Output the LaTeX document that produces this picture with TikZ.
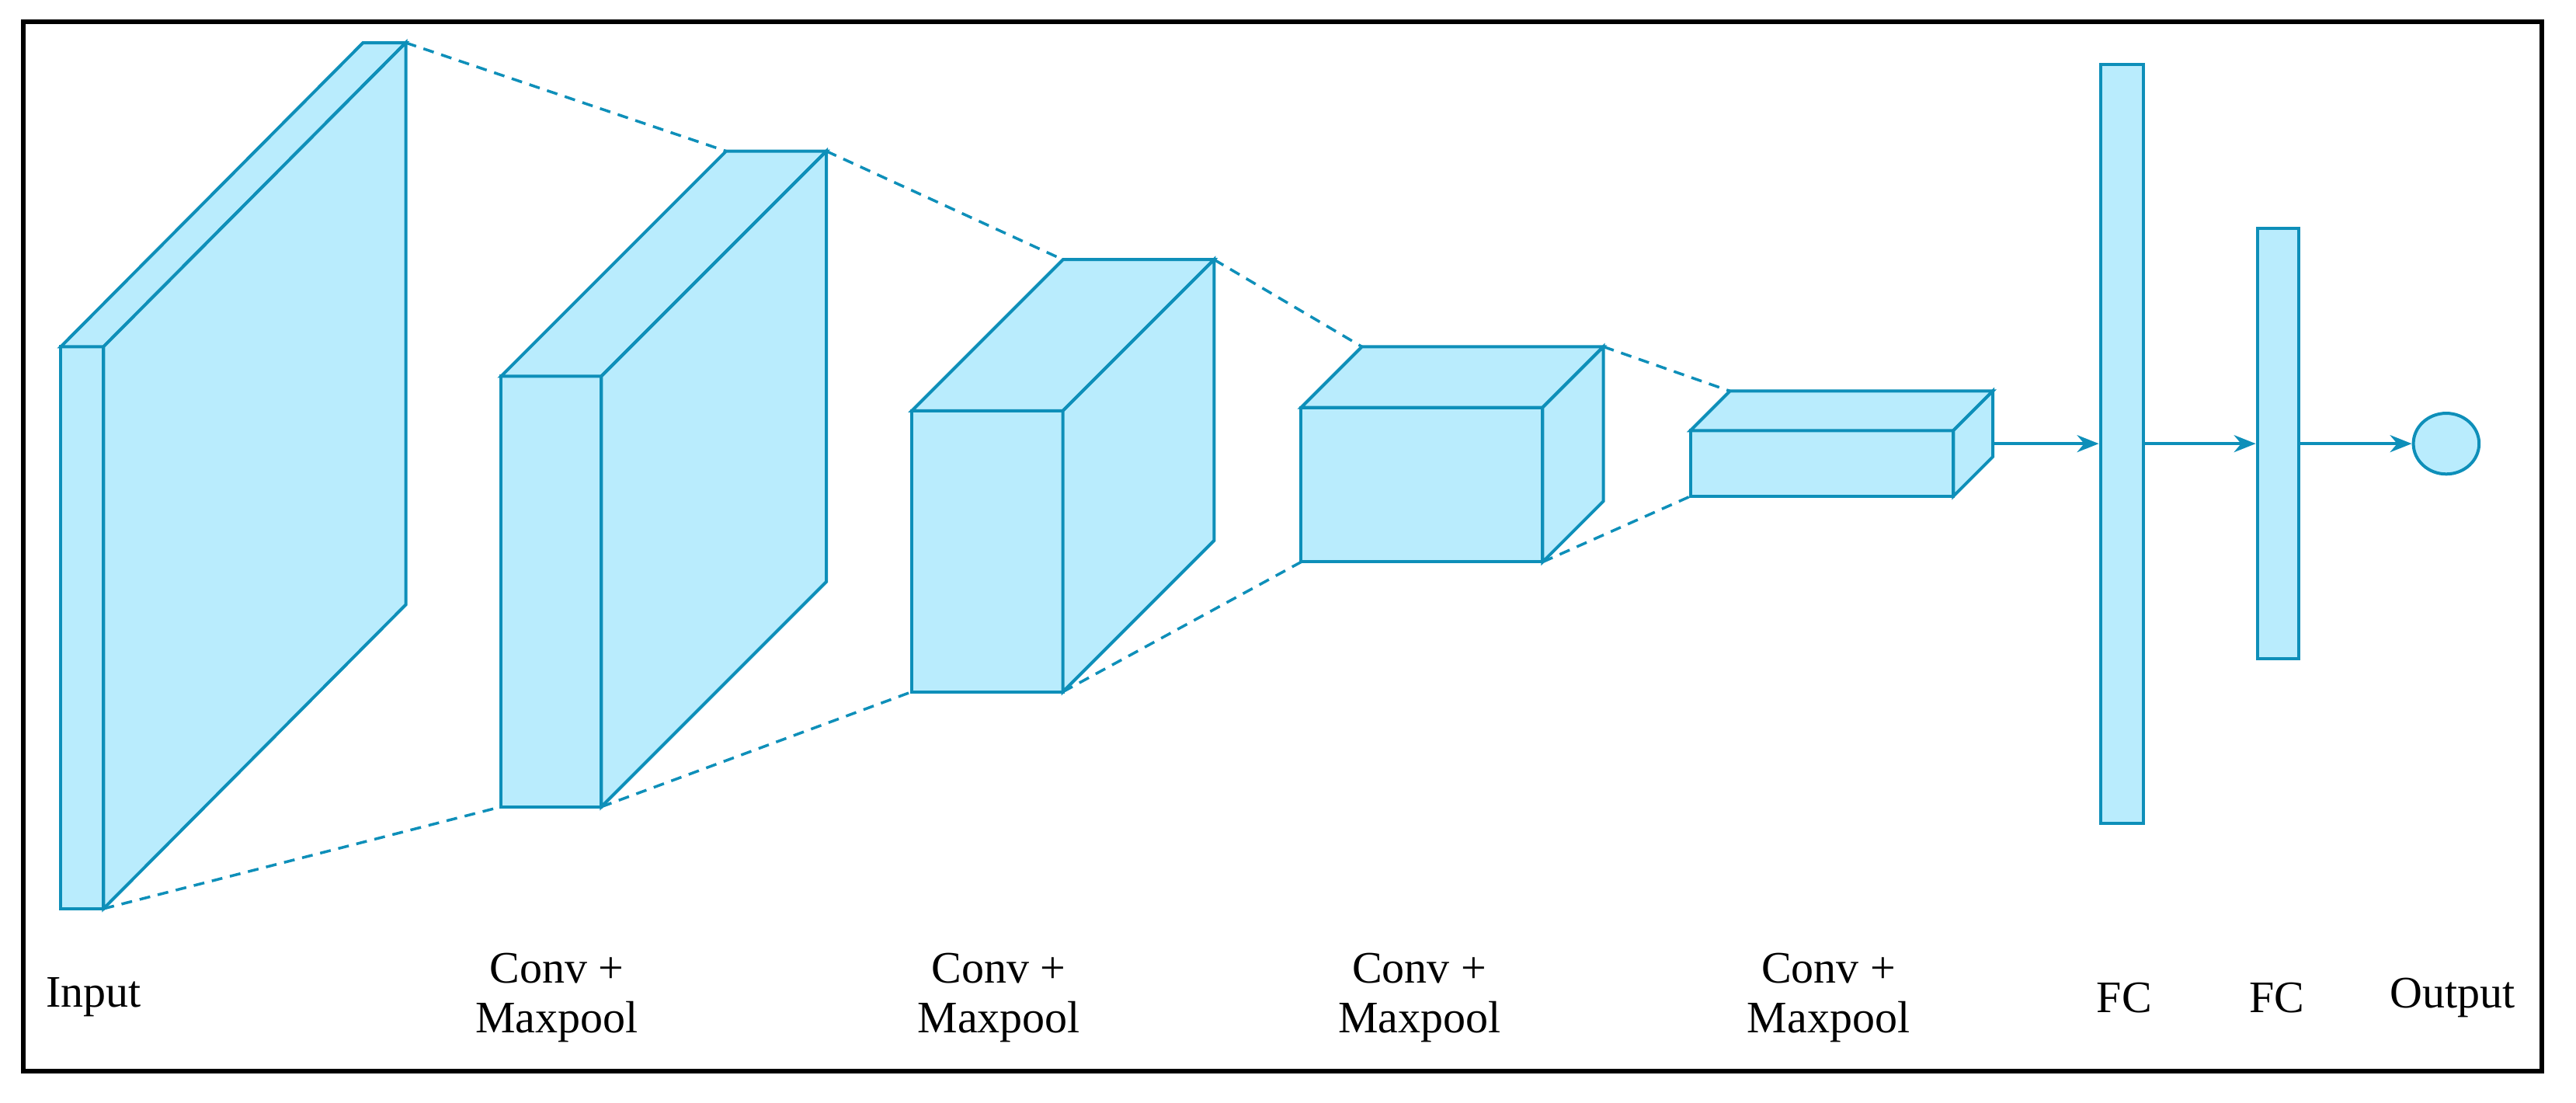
\documentclass[tikz,border=0pt]{standalone}
\usepackage{fontspec}
\setmainfont{Liberation Serif}
\usetikzlibrary{arrows.meta,calc,shapes.geometric}
\definecolor{edge}{RGB}{14,143,185}
\definecolor{face}{RGB}{185,236,253}
\newcommand\mybox[7]{% name, x1, y1, x2, y2, dx, dy
  \coordinate (#1fbl) at (#2,#5); \coordinate (#1fbr) at (#4,#5);
  \coordinate (#1ftl) at (#2,#3); \coordinate (#1ftr) at (#4,#3);
  \coordinate (#1btl) at ($(#1ftl)+(#6,#7)$); \coordinate (#1btr) at ($(#1ftr)+(#6,#7)$);
  \coordinate (#1bbr) at ($(#1fbr)+(#6,#7)$);
  \draw[lay] (#1ftl) rectangle (#1fbr);
  \draw[lay] (#1ftl) -- (#1btl) -- (#1btr) -- (#1ftr) -- cycle;
  \draw[lay] (#1ftr) -- (#1btr) -- (#1bbr) -- (#1fbr) -- cycle;}
\begin{document}
\begin{tikzpicture}[x=2.1154pt,y=-2.1154pt,
  lay/.style={draw=edge,fill=face,line width=4pt,line join=miter},
  dsh/.style={draw=edge,line width=3.5pt,dash pattern=on 14pt off 10pt},
  arr/.style={draw=edge,line width=4pt,-{Stealth[length=28pt,width=22pt]}},
  lbl/.style={font=\fontsize{58}{64}\selectfont,align=center,text=black}]
\useasboundingbox (0,0) rectangle (1568,670.8);
\draw[line width=6pt] (14,13) rectangle (1547,652);
\mybox{a}{37}{211}{63}{553}{184}{-185}
\mybox{b}{305}{229}{366}{491}{137}{-137}
\mybox{c}{555}{250}{647}{421}{92}{-92}
\mybox{d}{792}{248}{939}{342}{37}{-37}
\mybox{e}{1029}{262}{1189}{302}{24}{-24}
\draw[dsh] (abtr) -- (bbtl);
\draw[dsh] (bbtr) -- (cbtl);
\draw[dsh] (cbtr) -- (dbtl);
\draw[dsh] (dbtr) -- (ebtl);
\draw[dsh] (afbr) -- (bfbl);
\draw[dsh] (bfbr) -- (cfbl);
\draw[dsh] (cfbr) -- (dfbl);
\draw[dsh] (dfbr) -- (efbl);
\node[lay,inner sep=0,minimum width=26*2.1154pt,minimum height=462*2.1154pt] (f1) at (1291.5,270) {};
\node[lay,inner sep=0,minimum width=25*2.1154pt,minimum height=262*2.1154pt] (f2) at (1386.5,270) {};
\node[lay,ellipse,inner sep=0,minimum width=40*2.1154pt,minimum height=37*2.1154pt] (o) at (1489,270) {};
\coordinate (eout) at (1213,270);
\draw[arr] (eout) -- (f1.west);
\draw[arr] (f1.east) -- (f2.west);
\draw[arr] (f2.east) -- (o.west);
\node[lbl] (l0) at (57,607) {Input};
\node[lbl] (l1) at (339,607) {Conv +\\Maxpool};
\node[lbl] (l2) at (608,607) {Conv +\\Maxpool};
\node[lbl] (l3) at (864,607) {Conv +\\Maxpool};
\node[lbl] (l4) at (1113,607) {Conv +\\Maxpool};
\node[lbl] (l5) at (1293,607) {FC};
\node[lbl] (l6) at (1386,607) {FC};
\node[lbl] (l7) at (1493,607) {Output};
\end{tikzpicture}
\end{document}
